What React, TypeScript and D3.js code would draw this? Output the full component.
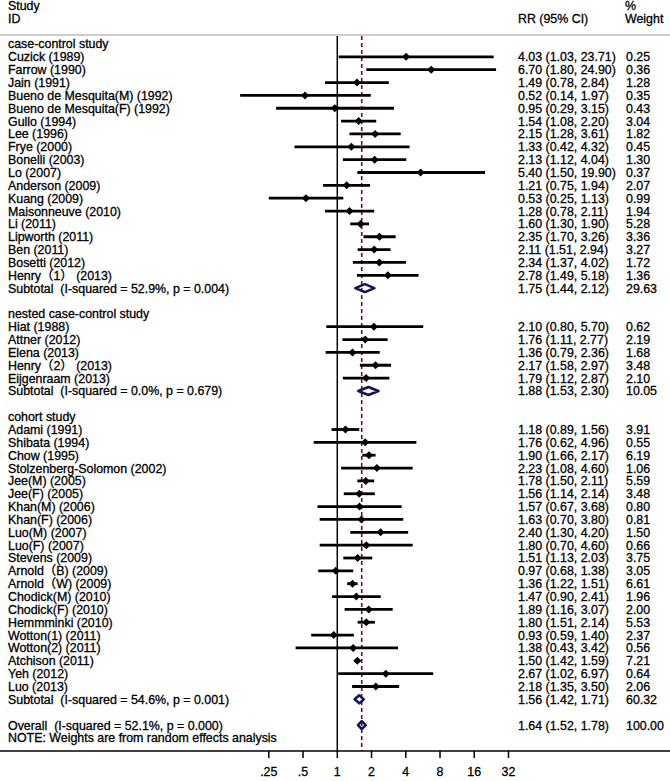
import { useEffect, useRef } from "react";
import * as d3 from "d3";

// case-control studies
const ccNames = [
  "Cuzick (1989)", "Farrow (1990)", "Jain (1991)", "Bueno de Mesquita(M) (1992)",
  "Bueno de Mesquita(F) (1992)", "Gullo (1994)", "Lee (1996)", "Frye (2000)",
  "Bonelli (2003)", "Lo (2007)", "Anderson (2009)", "Kuang (2009)",
  "Maisonneuve (2010)", "Li (2011)", "Lipworth (2011)", "Ben (2011)",
  "Bosetti (2012)", "Henry（1） (2013)",
];
const ccRR = [4.03, 6.7, 1.49, 0.52, 0.95, 1.54, 2.15, 1.33, 2.13, 5.4, 1.21, 0.53, 1.28, 1.6, 2.35, 2.11, 2.34, 2.78];
const ccLo = [1.03, 1.8, 0.78, 0.14, 0.29, 1.08, 1.28, 0.42, 1.12, 1.5, 0.75, 0.25, 0.78, 1.3, 1.7, 1.51, 1.37, 1.49];
const ccHi = [23.71, 24.9, 2.84, 1.97, 3.15, 2.2, 3.61, 4.32, 4.04, 19.9, 1.94, 1.13, 2.11, 1.9, 3.26, 2.94, 4.02, 5.18];
const ccW = [0.25, 0.36, 1.28, 0.35, 0.43, 3.04, 1.82, 0.45, 1.3, 0.37, 2.07, 0.99, 1.94, 5.28, 3.36, 3.27, 1.72, 1.36];

// nested case-control studies
const ncNames = ["Hiat (1988)", "Attner (2012)", "Elena (2013)", "Henry（2） (2013)", "Eijgenraam (2013)"];
const ncRR = [2.1, 1.76, 1.36, 2.17, 1.79];
const ncLo = [0.8, 1.11, 0.79, 1.58, 1.12];
const ncHi = [5.7, 2.77, 2.36, 2.97, 2.87];
const ncW = [0.62, 2.19, 1.68, 3.48, 2.1];

// cohort studies
const coNames = [
  "Adami (1991)", "Shibata (1994)", "Chow (1995)", "Stolzenberg-Solomon (2002)",
  "Jee(M) (2005)", "Jee(F) (2005)", "Khan(M) (2006)", "Khan(F) (2006)",
  "Luo(M) (2007)", "Luo(F) (2007)", "Stevens (2009)", "Arnold（B) (2009)",
  "Arnold（W) (2009)", "Chodick(M) (2010)", "Chodick(F) (2010)", "Hemmminki (2010)",
  "Wotton(1) (2011)", "Wotton(2) (2011)", "Atchison (2011)", "Yeh (2012)", "Luo (2013)",
];
const coRR = [1.18, 1.76, 1.9, 2.23, 1.78, 1.56, 1.57, 1.63, 2.4, 1.8, 1.51, 0.97, 1.36, 1.47, 1.89, 1.8, 0.93, 1.38, 1.5, 2.67, 2.18];
const coLo = [0.89, 0.62, 1.66, 1.08, 1.5, 1.14, 0.67, 0.7, 1.3, 0.7, 1.13, 0.68, 1.22, 0.9, 1.16, 1.51, 0.59, 0.43, 1.42, 1.02, 1.35];
const coHi = [1.56, 4.96, 2.17, 4.6, 2.11, 2.14, 3.68, 3.8, 4.2, 4.6, 2.03, 1.38, 1.51, 2.41, 3.07, 2.14, 1.4, 3.42, 1.59, 6.97, 3.5];
const coW = [3.91, 0.55, 6.19, 1.06, 5.59, 3.48, 0.8, 0.81, 1.5, 0.66, 3.75, 3.05, 6.61, 1.96, 2.0, 5.53, 2.37, 0.56, 7.21, 0.64, 2.06];

const groupLabels = ["case-control study", "nested case-control study", "cohort study"];
const subtotalLabels = [
  "Subtotal  (I-squared = 52.9%, p = 0.004)",
  "Subtotal  (I-squared = 0.0%, p = 0.679)",
  "Subtotal  (I-squared = 54.6%, p = 0.001)",
];
const subRR = [1.75, 1.88, 1.56];
const subLo = [1.44, 1.53, 1.42];
const subHi = [2.12, 2.3, 1.71];
const subW = [29.63, 10.05, 60.32];

const overallLabel = "Overall  (I-squared = 52.1%, p = 0.000)";
const overall = { rr: 1.64, lo: 1.52, hi: 1.78, w: 100.0 };
const noteText = "NOTE: Weights are from random effects analysis";
const tickValues = [0.25, 0.5, 1, 2, 4, 8, 16, 32];
const tickLabels = [".25", ".5", "1", "2", "4", "8", "16", "32"];

type Row = { kind: "header" | "study" | "sub" | "blank" | "overall" | "note"; label: string; rr?: number; lo?: number; hi?: number; w?: number };

function buildRows(): Row[] {
  const groups = [
    [ccNames, ccRR, ccLo, ccHi, ccW],
    [ncNames, ncRR, ncLo, ncHi, ncW],
    [coNames, coRR, coLo, coHi, coW],
  ] as [string[], number[], number[], number[], number[]][];
  const rows: Row[] = [];
  groups.forEach(([names, rr, lo, hi, w], g) => {
    rows.push({ kind: "header", label: groupLabels[g] });
    names.forEach((n, i) => rows.push({ kind: "study", label: n, rr: rr[i], lo: lo[i], hi: hi[i], w: w[i] }));
    rows.push({ kind: "sub", label: subtotalLabels[g], rr: subRR[g], lo: subLo[g], hi: subHi[g], w: subW[g] });
    rows.push({ kind: "blank", label: "." });
  });
  rows.push({ kind: "overall", label: overallLabel, ...overall });
  rows.push({ kind: "note", label: noteText });
  return rows;
}

const W = 670;
const H = 781;
const FONT = "'Liberation Sans', Arial, 'Noto Sans CJK SC', sans-serif";

export default function App() {
  const svgRef = useRef<SVGSVGElement>(null);

  useEffect(() => {
    if (!svgRef.current) return;
    const svg = d3.select(svgRef.current);
    svg.selectAll("*").remove();

    const rows = buildRows();
    const x = d3.scaleLog().base(2).domain([0.25, 32]).range([268.8, 508.5]);
    const y = (i: number) => 44 + i * 12.85;
    const topY = 35;
    const axisY = 751;
    const fs = 12.4;

    const txt = (xx: number, yy: number, s: string, anchor = "start") =>
      svg.append("text")
        .attr("x", xx).attr("y", yy)
        .attr("dy", "0.36em")
        .attr("font-family", FONT)
        .attr("font-size", fs)
        .attr("text-anchor", anchor)
        .attr("fill", "#000")
        .attr("stroke", "#000")
        .attr("stroke-width", 0.3)
        .style("white-space", "pre")
        .text(s);

    // Header
    txt(8, 6, "Study");
    txt(8, 19, "ID");
    txt(518, 19, "RR (95% CI)");
    txt(625, 6, "%");
    txt(625, 19, "Weight");

    svg.append("line")
      .attr("x1", 0).attr("x2", W).attr("y1", topY).attr("y2", topY)
      .attr("stroke", "#bcbcbc").attr("stroke-width", 1.5);

    // null line
    svg.append("line")
      .attr("x1", x(1)).attr("x2", x(1)).attr("y1", topY + 1).attr("y2", axisY)
      .attr("stroke", "#000").attr("stroke-width", 1.5);

    // overall effect line
    svg.append("line")
      .attr("x1", x(overall.rr)).attr("x2", x(overall.rr)).attr("y1", topY + 1).attr("y2", axisY)
      .attr("stroke", "#7a0a14").attr("stroke-width", 1.6)
      .attr("stroke-dasharray", "4,3");

    rows.forEach((r, i) => {
      const yy = y(i);
      if (r.kind === "blank") {
        svg.append("text").attr("x", 7).attr("y", yy).attr("font-size", 6)
          .attr("font-family", FONT).attr("fill", "#888").text(".");
        return;
      }
      txt(8, yy, r.label);
      if (r.rr === undefined) return;
      txt(518, yy, `${r.rr.toFixed(2)} (${r.lo!.toFixed(2)}, ${r.hi!.toFixed(2)})`);
      txt(626, yy, r.w!.toFixed(2));

      if (r.kind === "study") {
        svg.append("line")
          .attr("x1", x(r.lo!)).attr("x2", x(r.hi!)).attr("y1", yy).attr("y2", yy)
          .attr("stroke", "#000").attr("stroke-width", 2.8);
        const cx = x(r.rr);
        const s = 4;
        svg.append("path")
          .attr("d", `M${cx},${yy - s}L${cx + s},${yy}L${cx},${yy + s}L${cx - s},${yy}Z`)
          .attr("fill", "#000");
      } else {
        const l = x(r.lo!), h = x(r.hi!), c = x(r.rr), dh = 4;
        svg.append("path")
          .attr("d", `M${l},${yy}L${c},${yy - dh}L${h},${yy}L${c},${yy + dh}Z`)
          .attr("fill", "none")
          .attr("stroke", "#14145a")
          .attr("stroke-width", 2.6)
          .attr("stroke-linejoin", "round");
      }
    });

    // axis
    svg.append("line")
      .attr("x1", 0).attr("x2", W).attr("y1", axisY).attr("y2", axisY)
      .attr("stroke", "#000").attr("stroke-width", 1.5);
    tickValues.forEach((t, i) => {
      svg.append("line")
        .attr("x1", x(t)).attr("x2", x(t)).attr("y1", axisY).attr("y2", axisY + 7)
        .attr("stroke", "#000").attr("stroke-width", 1.5);
      txt(x(t), 772, tickLabels[i], "middle");
    });
  }, []);

  return (
    <svg
      ref={svgRef}
      width={W}
      height={H}
      style={{ position: "absolute", left: 0, top: 0, background: "#fff" }}
    />
  );
}
